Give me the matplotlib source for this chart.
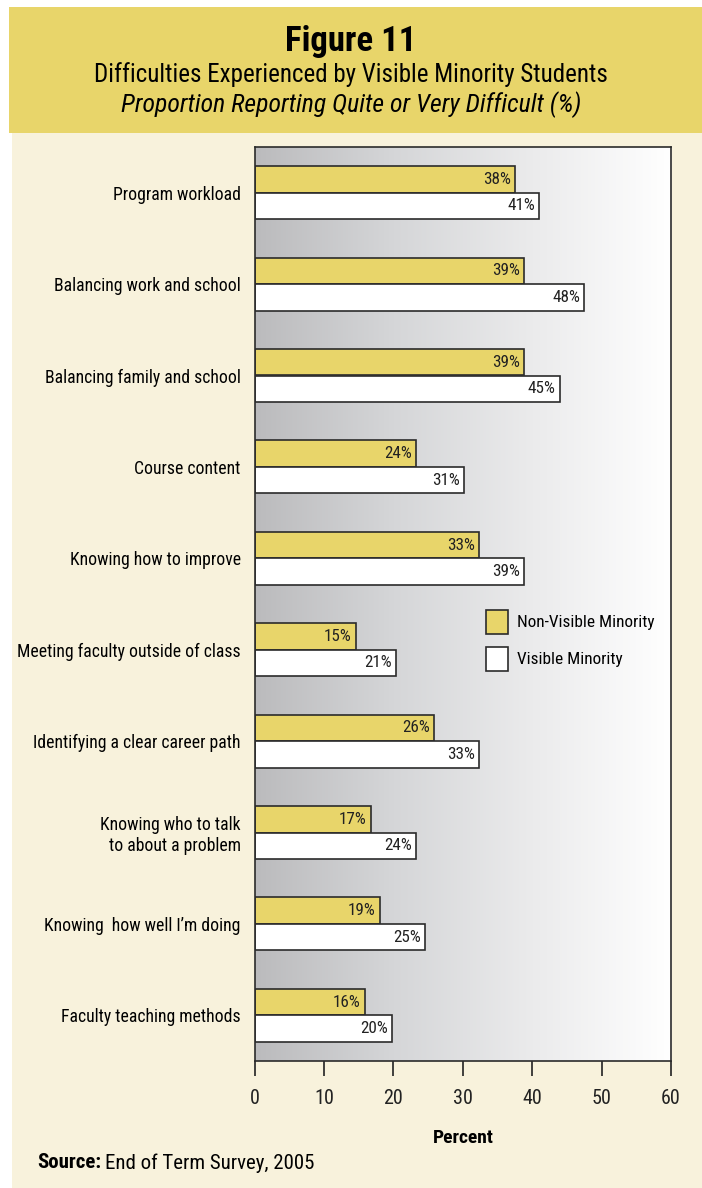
import matplotlib
matplotlib.use("Agg")
import matplotlib.pyplot as plt
import numpy as np
from matplotlib.patches import Rectangle, Patch
from matplotlib.colors import LinearSegmentedColormap

plt.rcParams['font.family'] = ['Roboto Condensed', 'DejaVu Sans']
plt.rcParams['font.stretch'] = 'condensed'

categories = ["Program workload", "Balancing work and school", "Balancing family and school",
              "Course content", "Knowing how to improve", "Meeting faculty outside of class",
              "Identifying a clear career path", "Knowing who to talk\nto about a problem",
              "Knowing  how well I\u2019m doing", "Faculty teaching methods"]
# bar lengths as drawn and the labels printed on them
non_visible = [37.5, 38.8, 38.8, 23.2, 32.3, 14.6, 25.9, 16.7, 18.0, 15.9]
visible = [41.0, 47.5, 44.0, 30.2, 38.8, 20.3, 32.3, 23.2, 24.5, 19.8]
non_visible_lbl = ["38%", "39%", "39%", "24%", "33%", "15%", "26%", "17%", "19%", "16%"]
visible_lbl = ["41%", "48%", "45%", "31%", "39%", "21%", "33%", "24%", "25%", "20%"]
xticks = [0, 10, 20, 30, 40, 50, 60]

yellow = "#E8D56A"
cream = "#F8F2DC"
edge = "#2b2b2b"

W, H = 702, 1188
fig = plt.figure(figsize=(W / 100, H / 100), dpi=100)
fig.patch.set_facecolor("white")

# header band and cream panel
fig.add_artist(Rectangle((9 / W, 1 - 133 / H), 1, 126 / H, transform=fig.transFigure,
                         facecolor=yellow, edgecolor="none", zorder=0))
fig.add_artist(Rectangle((12 / W, 0), 1, 1 - 133 / H, transform=fig.transFigure,
                         facecolor=cream, edgecolor="none", zorder=0))

fig.text(0.5, 1 - 41 / H, "Figure 11", ha="center", va="center", fontsize=25, fontweight="bold")
fig.text(0.5, 1 - 75 / H, "Difficulties Experienced by Visible Minority Students",
         ha="center", va="center", fontsize=18)
fig.text(0.5, 1 - 105 / H, "Proportion Reporting Quite or Very Difficult (%)",
         ha="center", va="center", fontsize=18.5, style="italic")

left, right, top, bottom = 254.7, 671, 147, 1061
ax = fig.add_axes([left / W, 1 - bottom / H, (right - left) / W, (bottom - top) / H])
ax.set_facecolor("none")

n = len(categories)
y = np.arange(n)
cmap = LinearSegmentedColormap.from_list("g", ["#BBBBBD", "#D5D6D8", "#EBEBEC", "#FFFFFF"])
grad = np.linspace(0, 1, 256).reshape(1, -1)
ax.imshow(grad, cmap=cmap, aspect="auto", extent=[0, 60, n - 0.5, -0.5], zorder=0)

h = 0.29
ax.barh(y - h / 2, non_visible, height=h, color=yellow, edgecolor=edge, linewidth=1.2, zorder=2)
ax.barh(y + h / 2, visible, height=h, color="white", edgecolor=edge, linewidth=1.2, zorder=2)
for i in range(n):
    ax.text(non_visible[i] - 0.6, y[i] - h / 2, non_visible_lbl[i], ha="right", va="center",
            fontsize=12.3, color="#222222", zorder=3)
    ax.text(visible[i] - 0.6, y[i] + h / 2, visible_lbl[i], ha="right", va="center",
            fontsize=12.3, color="#222222", zorder=3)

ax.set_xlim(0, 60)
ax.set_ylim(n - 0.5, -0.5)
ax.set_xticks(xticks)
ax.set_xticklabels([str(t) for t in xticks], fontsize=14.5)
ax.set_yticks(y)
ax.set_yticklabels(categories, fontsize=12.7)
ax.tick_params(axis="y", length=0, pad=10)
ax.tick_params(axis="x", length=11, width=1.2, pad=9, colors="#222222")
for s in ax.spines.values():
    s.set_color(edge)
    s.set_linewidth(1.2)
ax.set_xlabel("Percent", fontsize=14, fontweight="bold", labelpad=15)

handles = [Patch(facecolor=yellow, edgecolor=edge, linewidth=1.2, label="Non-Visible Minority"),
           Patch(facecolor="white", edgecolor=edge, linewidth=1.2, label="Visible Minority")]
ax.legend(handles=handles, loc="upper left", bbox_to_anchor=((486 - left) / (right - left), (bottom - 610) / (bottom - top)),
          frameon=False, borderpad=0, fontsize=12.4, handlelength=1.3, handleheight=1.75,
          labelspacing=0.75, handletextpad=0.5, borderaxespad=0)

# source line
fig.canvas.draw()
t1 = fig.text(37 / W, 1 - 1163 / H, "Source:", ha="left", va="center", fontsize=15, fontweight="bold")
fig.canvas.draw()
bb = t1.get_window_extent()
fig.text((bb.x1 + 4) / W, 1 - 1163 / H, "End of Term Survey, 2005", ha="left", va="center", fontsize=15)

fig.savefig("out.png", dpi=100, facecolor=fig.get_facecolor())
